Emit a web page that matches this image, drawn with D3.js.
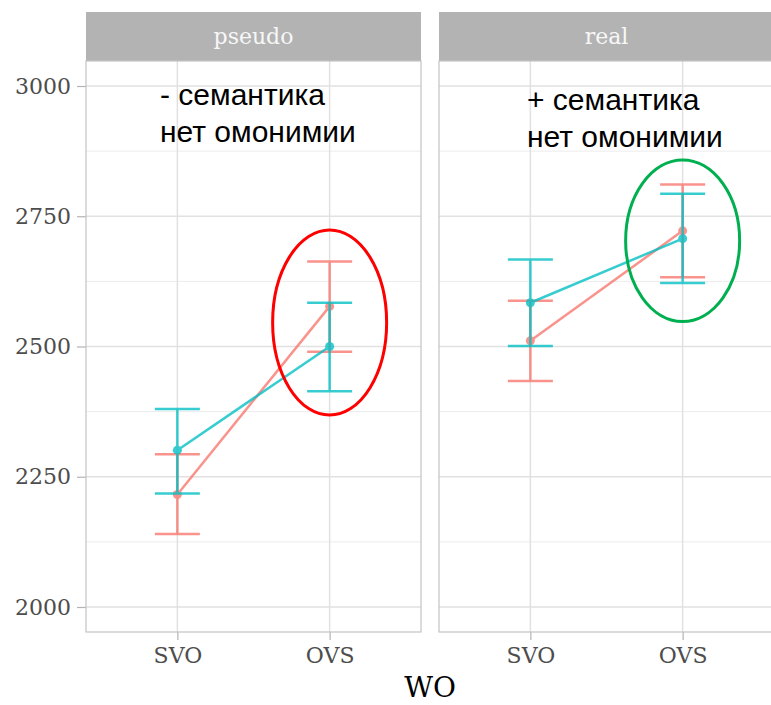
<!DOCTYPE html>
<html lang="ru">
  <head>
    <meta charset="UTF-8" />
    <title>WO: pseudo vs real</title>
    <script src="https://d3js.org/d3.v7.min.js"></script>
    <style>
      html,
      body {
        margin: 0;
        padding: 0;
        background: #ffffff;
      }
    </style>
  </head>
  <body>
    <div id="viz"></div>
    <script>
      // data
      const facets = ["pseudo", "real"];
      const wordOrders = ["SVO", "OVS"];
      const yTicks = [2000, 2250, 2500, 2750, 3000];
      const yMinor = [2125, 2375, 2625, 2875];

      // series A (red) and series B (teal): mean, lower, upper per facet x WO
      const redMean = { pseudo: [2216, 2577], real: [2511, 2722] };
      const redLow = { pseudo: [2140, 2490], real: [2434, 2633] };
      const redHigh = { pseudo: [2293, 2663], real: [2588, 2811] };

      const tealMean = { pseudo: [2301, 2500], real: [2584, 2707] };
      const tealLow = { pseudo: [2218, 2414], real: [2501, 2622] };
      const tealHigh = { pseudo: [2380, 2584], real: [2667, 2793] };

      const notes = {
        pseudo: ["- семантика", "нет омонимии"],
        real: ["+ семантика", "нет омонимии"],
      };

      const width = 771;
      const height = 705;
      const panelTop = 61;
      const panelBottom = 632;
      const stripTop = 12;

      const svg = d3
        .select("#viz")
        .append("svg")
        .attr("width", width)
        .attr("height", height)
        .style("font-family", "'DejaVu Serif', serif");

      const facetScale = d3
        .scaleBand()
        .domain(facets)
        .range([86, 774])
        .paddingInner(18 / 353);
      const pw = facetScale.bandwidth();

      const x = d3.scalePoint().domain(wordOrders).range([0, pw]).padding(0.6);
      const y = d3
        .scaleLinear()
        .domain([1952, 3048])
        .range([panelBottom, panelTop]);

      const series = [
        { color: "#F8766D", mean: redMean, low: redLow, high: redHigh },
        { color: "#00BFC4", mean: tealMean, low: tealLow, high: tealHigh },
      ];

      facets.forEach((f, fi) => {
        const g = svg
          .append("g")
          .attr("transform", `translate(${facetScale(f)},0)`);

        // strip
        g.append("rect")
          .attr("x", 0)
          .attr("y", stripTop)
          .attr("width", pw)
          .attr("height", panelTop - stripTop)
          .attr("fill", "#B3B3B3");
        g.append("text")
          .attr("x", pw / 2)
          .attr("y", (stripTop + panelTop) / 2)
          .attr("dy", "0.32em")
          .attr("text-anchor", "middle")
          .attr("fill", "#F7F7F7")
          .style("font-size", "22px")
          .text(f);

        // grid
        g.selectAll("line.minor")
          .data(yMinor)
          .join("line")
          .attr("x1", 0)
          .attr("x2", pw)
          .attr("y1", (d) => y(d))
          .attr("y2", (d) => y(d))
          .attr("stroke", "#ECECEC")
          .attr("stroke-width", 1);
        g.selectAll("line.major")
          .data(yTicks)
          .join("line")
          .attr("x1", 0)
          .attr("x2", pw)
          .attr("y1", (d) => y(d))
          .attr("y2", (d) => y(d))
          .attr("stroke", "#E1E1E1")
          .attr("stroke-width", 1.5);
        g.selectAll("line.vgrid")
          .data(wordOrders)
          .join("line")
          .attr("x1", (d) => x(d))
          .attr("x2", (d) => x(d))
          .attr("y1", panelTop)
          .attr("y2", panelBottom)
          .attr("stroke", "#E1E1E1")
          .attr("stroke-width", 1.5);

        // x axis
        const xAxis = g
          .append("g")
          .attr("transform", `translate(0,${panelBottom})`)
          .call(d3.axisBottom(x).tickSize(8).tickPadding(7));
        xAxis.select(".domain").remove();
        xAxis.selectAll("line").attr("stroke", "#B3B3B3").attr("stroke-width", 1.2);
        xAxis
          .selectAll("text")
          .attr("fill", "#4D4D4D")
          .style("font-size", "22px")
          .style("font-family", "'DejaVu Serif', serif");

        // y axis on first panel only
        if (fi === 0) {
          const yAxis = g
            .append("g")
            .call(
              d3
                .axisLeft(y)
                .tickValues(yTicks)
                .tickFormat(d3.format("d"))
                .tickSize(9)
                .tickPadding(6)
            );
          yAxis.select(".domain").remove();
          yAxis.selectAll("line").attr("stroke", "#B3B3B3").attr("stroke-width", 1.2);
          yAxis
            .selectAll("text")
            .attr("fill", "#4D4D4D")
            .style("font-size", "22px")
            .style("font-family", "'DejaVu Serif', serif");
        }

        // series
        series.forEach((s) => {
          const pts = wordOrders.map((wo, i) => ({
            wo: wo,
            m: s.mean[f][i],
            lo: s.low[f][i],
            hi: s.high[f][i],
          }));
          const sg = g.append("g").attr("opacity", 0.78);
          const cap = 22.5;
          sg.selectAll("line.eb")
            .data(pts)
            .join("line")
            .attr("x1", (d) => x(d.wo))
            .attr("x2", (d) => x(d.wo))
            .attr("y1", (d) => y(d.lo))
            .attr("y2", (d) => y(d.hi))
            .attr("stroke", s.color)
            .attr("stroke-width", 2.5);
          ["lo", "hi"].forEach((k) => {
            sg.selectAll("line.cap" + k)
              .data(pts)
              .join("line")
              .attr("x1", (d) => x(d.wo) - cap)
              .attr("x2", (d) => x(d.wo) + cap)
              .attr("y1", (d) => y(d[k]))
              .attr("y2", (d) => y(d[k]))
              .attr("stroke", s.color)
              .attr("stroke-width", 2.5);
          });
          sg.append("path")
            .datum(pts)
            .attr("fill", "none")
            .attr("stroke", s.color)
            .attr("stroke-width", 2.5)
            .attr(
              "d",
              d3
                .line()
                .x((d) => x(d.wo))
                .y((d) => y(d.m))
            );
          sg.selectAll("circle")
            .data(pts)
            .join("circle")
            .attr("cx", (d) => x(d.wo))
            .attr("cy", (d) => y(d.m))
            .attr("r", 4.5)
            .attr("fill", s.color);
        });

        // panel border
        g.append("rect")
          .attr("x", 0)
          .attr("y", panelTop)
          .attr("width", pw)
          .attr("height", panelBottom - panelTop)
          .attr("fill", "none")
          .attr("stroke", "#C4C4C4")
          .attr("stroke-width", 1.2);

        // annotations
        const noteX = fi === 0 ? 74 : 88;
        const noteY = fi === 0 ? [2964, 2893] : [2954, 2883];
        notes[f].forEach((t, i) => {
          g.append("text")
            .attr("x", noteX)
            .attr("y", y(noteY[i]))
            .attr("fill", "#000000")
            .style("font-family", "'Liberation Sans', Arial, sans-serif")
            .style("font-size", "30px")
            .text(t);
        });

        // highlight ellipse around OVS
        const ell = fi === 0
          ? { cy: 2546, ry: 177.5, color: "#FF0000" }
          : { cy: 2703, ry: 155, color: "#00B050" };
        g.append("ellipse")
          .attr("cx", x("OVS"))
          .attr("cy", y(ell.cy))
          .attr("rx", 57)
          .attr("ry", y(ell.cy - ell.ry) - y(ell.cy))
          .attr("fill", "none")
          .attr("stroke", ell.color)
          .attr("stroke-width", 3);
      });

      // x axis title
      svg
        .append("text")
        .attr("x", 430)
        .attr("y", 697)
        .attr("text-anchor", "middle")
        .attr("fill", "#000000")
        .style("font-size", "28px")
        .text("WO");
    </script>
  </body>
</html>
